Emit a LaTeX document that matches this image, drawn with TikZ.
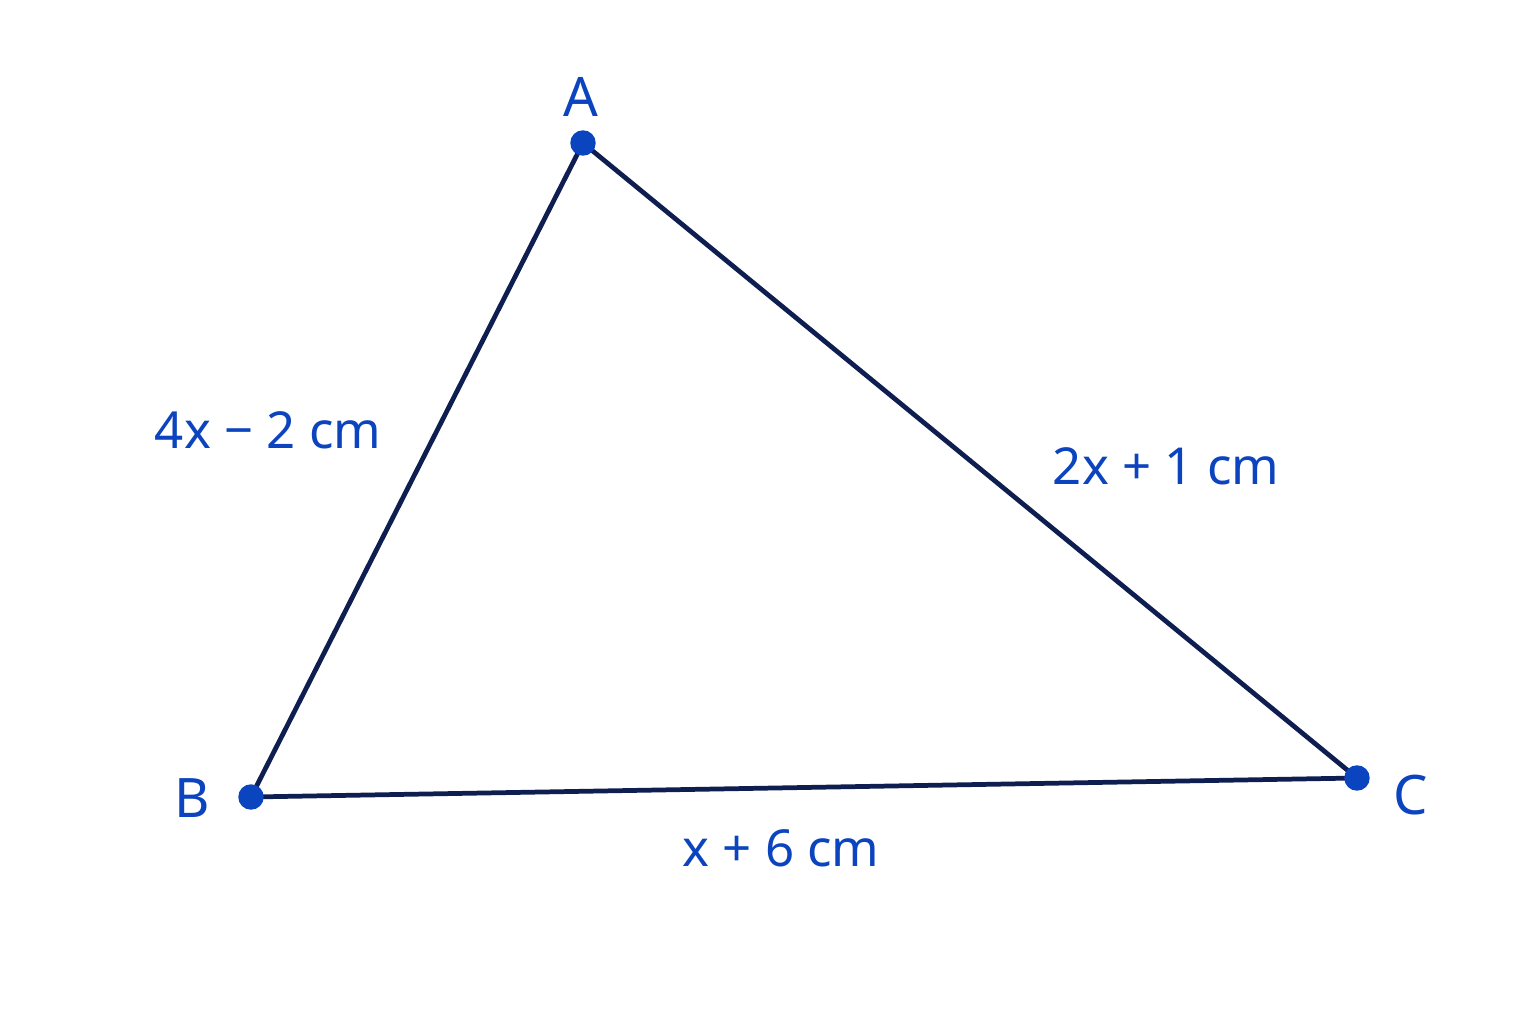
\documentclass[tikz,border=0pt]{standalone}
\usepackage{fontspec}
\setmainfont{Noto Sans}
\definecolor{lbl}{HTML}{0B44BE}
\definecolor{edge}{HTML}{0F1E50}
\definecolor{dot}{HTML}{0A45BF}
\begin{document}
\begin{tikzpicture}[x=0.02cm,y=-0.02cm,
  side/.style={draw=edge,line width=2.7pt,line join=round},
  pt/.style={circle,fill=dot,inner sep=0pt,minimum size=14.5pt},
  vlabel/.style={text=lbl,font=\fontsize{31}{36}\selectfont},
  elabel/.style={text=lbl,font=\fontsize{29}{34}\selectfont}]
\useasboundingbox (0,0) rectangle (1536,1024);
\fill[white] (0,0) rectangle (1536,1024);
\coordinate (A) at (583,143);
\coordinate (B) at (251,797);
\coordinate (C) at (1357,778);
\draw[side] (A) -- (B) -- (C) -- cycle;
\node[pt] (dA) at (A) {};
\node[pt] (dB) at (B) {};
\node[pt] (dC) at (C) {};
\node[vlabel] (lA) at (581,97) {A};
\node[vlabel] (lB) at (192,798) {B};
\node[vlabel] (lC) at (1411,795) {C};
\node[elabel] (eAB) at (268,430) {4x − 2 cm};
\node[elabel] (eAC) at (1166,466) {2x + 1 cm};
\node[elabel] (eBC) at (781,848) {x + 6 cm};
\end{tikzpicture}
\end{document}
